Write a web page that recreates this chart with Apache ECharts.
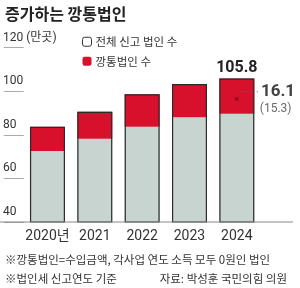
<!DOCTYPE html>
<html>
<head>
<meta charset="utf-8">
<script src="https://cdn.jsdelivr.net/npm/echarts@6/dist/echarts.min.js"></script>
<style>
html, body { margin: 0; padding: 0; background: #fff; }
#chart { width: 300px; height: 288px; }
</style>
</head>
<body>
<div id="chart"></div>
<script>
// 데이터 (단위: 만 곳)
const years = ['2020년', '2021', '2022', '2023', '2024']
const totalCorp = [83.7, 90.6, 98.6, 103.3, 105.8]   // 전체 신고 법인 수
const emptyCorp = [11.1, 12.4, 14.9, 15.3, 16.1]     // 깡통법인 수
const yTicks = [40, 60, 80, 100, 120]

const FONT = '"Roboto", "Noto Sans CJK KR", sans-serif'
const KR = '"Noto Sans CJK KR", sans-serif'

// 전체 중 깡통법인을 뺀 나머지 (누적 막대용)
const restCorp = totalCorp.map((v, i) => +(v - emptyCorp[i]).toFixed(1))
const last = years.length - 1
const dotData = years.map((_, i) => i === last ? restCorp[i] + emptyCorp[i] * 0.42 : null)

let myChart = echarts.init(document.getElementById('chart'))

let option = {
    animation: false,
    title: [
        {
            text: '증가하는 깡통법인',
            left: 0, top: 1,
            textStyle: { fontFamily: KR, fontSize: 16, fontWeight: 'bold', color: '#222' }
        },
        {
            text: '※깡통법인=수입금액, 각사업 연도 소득 모두 0원인 법인',
            left: 0, top: 249,
            textStyle: { fontFamily: KR, fontSize: 11.5, fontWeight: 'normal', color: '#333' }
        },
        {
            text: '※법인세 신고연도 기준',
            left: 0, top: 268,
            textStyle: { fontFamily: KR, fontSize: 11.5, fontWeight: 'normal', color: '#333' }
        },
        {
            text: '자료: 박성훈 국민의힘 의원',
            right: 8, top: 268,
            textStyle: { fontFamily: KR, fontSize: 11.5, fontWeight: 'normal', color: '#333' }
        }
    ],
    legend: {
        orient: 'vertical',
        left: 77, top: 31,
        itemWidth: 9, itemHeight: 9,
        itemGap: 8,
        textStyle: { fontFamily: KR, fontSize: 11.5, color: '#333', padding: [0, 0, 0, -1] },
        data: [
            { name: '전체 신고 법인 수', itemStyle: { color: '#fff', borderColor: '#333', borderWidth: 1 } },
            { name: '깡통법인 수' }
        ]
    },
    grid: { left: 20.8, right: 39.5, top: 47.6, bottom: 66 },
    xAxis: {
        type: 'category',
        data: years,
        axisLine: { show: false },
        axisTick: { show: false },
        axisLabel: { interval: 0, fontFamily: FONT, fontSize: 14, color: '#333', margin: 8 }
    },
    yAxis: {
        type: 'value',
        min: yTicks[0], max: yTicks[yTicks.length - 1], interval: 20,
        axisLine: { show: false },
        splitLine: { show: false },
        axisTick: { show: true, length: 20, lineStyle: { color: '#aaa', width: 1 } },
        axisLabel: {
            align: 'left', verticalAlign: 'bottom', margin: 20.8,
            padding: [0, 0, 4, 0],
            fontFamily: FONT, fontSize: 12, color: '#333',
            formatter: v => v === 120 ? '120 (만곳)' : v
        }
    },
    graphic: [
        // 기준선
        { type: 'line', shape: { x1: 0, y1: 222, x2: 293, y2: 222 }, style: { stroke: '#888', lineWidth: 1 }, z: 10 }
    ],
    series: [
        {
            name: '전체 신고 법인 수',
            type: 'bar', stack: 'a', barWidth: 35, barGap: '-100%',
            itemStyle: { color: '#c7d4cf' },
            data: restCorp
        },
        {
            name: '깡통법인 수',
            type: 'bar', stack: 'a', barWidth: 35, barGap: '-100%',
            itemStyle: { color: '#d7102b' },
            data: emptyCorp
        },
        {
            name: 'outline',
            type: 'bar', barWidth: 35, barGap: '-100%',
            itemStyle: { color: 'rgba(0,0,0,0)', borderColor: '#2b2b2b', borderWidth: 1.2 },
            label: {
                show: true, position: 'top', distance: 3,
                fontFamily: FONT, fontSize: 16, fontWeight: 'bold', color: '#222',
                formatter: p => p.dataIndex === last ? p.value.toFixed(1) : ''
            },
            data: totalCorp,
            z: 3
        },
        {
            name: 'dot',
            type: 'scatter',
            symbol: 'circle', symbolSize: 4,
            itemStyle: { color: '#7a0a16' },
            label: {
                show: true, position: 'right', distance: 1, offset: [0, 1],
                formatter: () => '{d|······}{v|' + emptyCorp[last].toFixed(1) + '}\n{s|}{p|(' + emptyCorp[last - 1].toFixed(1) + ')}',
                rich: {
                    d: { color: '#666', fontSize: 10, fontFamily: 'DejaVu Sans', padding: [0, 2, 0, 0] },
                    v: { color: '#111', fontSize: 17, fontWeight: 'bold', fontFamily: FONT, lineHeight: 18 },
                    s: { width: 20 },
                    p: { color: '#444', fontSize: 12, fontFamily: FONT, lineHeight: 16 }
                }
            },
            data: dotData,
            z: 5
        }
    ]
}

option && myChart.setOption(option)
</script>
</body>
</html>
